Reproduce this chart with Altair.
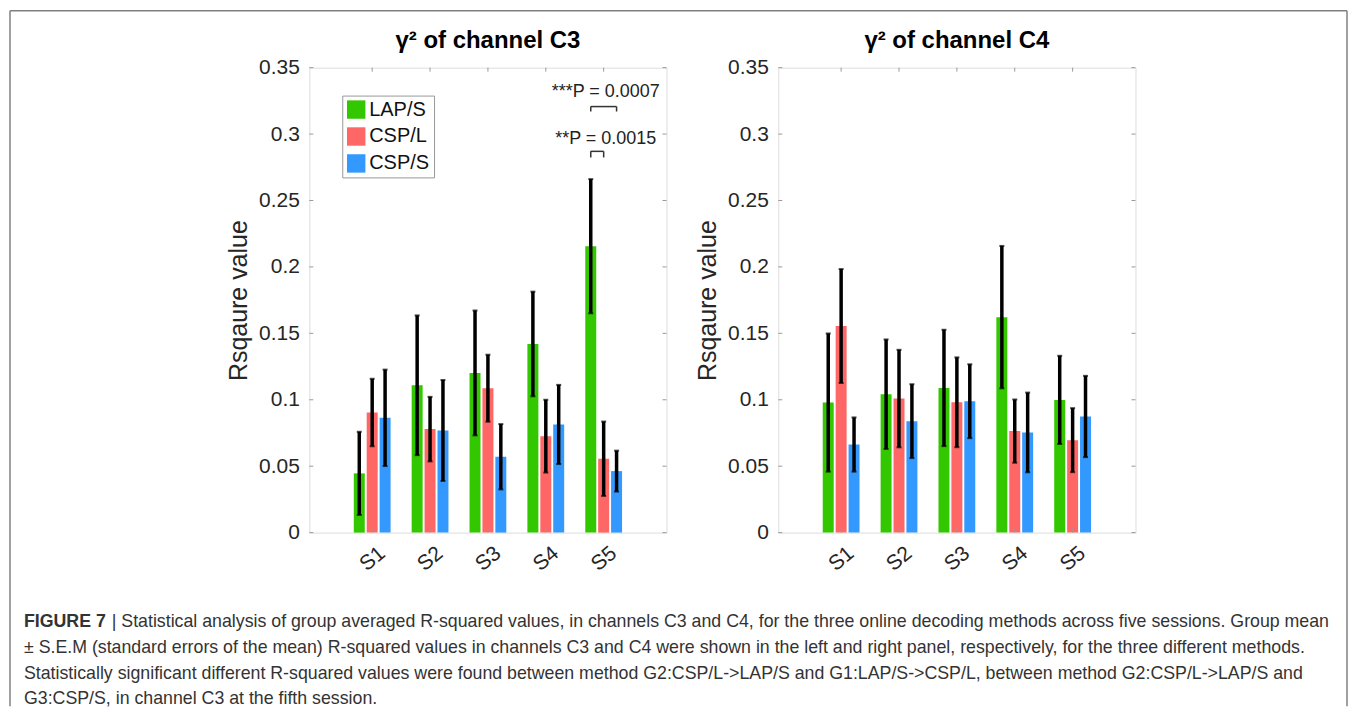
import altair as alt
import pandas as pd

sessions = ["S1", "S2", "S3", "S4", "S5"]
methods = ["LAP/S", "CSP/L", "CSP/S"]
colors = ["#33c700", "#ff6666", "#3399ff"]
y_ticks = [0, 0.05, 0.1, 0.15, 0.2, 0.25, 0.3, 0.35]

# channel C3: group means and S.E.M.
c3_lap_s = [0.0446, 0.1109, 0.1202, 0.1420, 0.2156]
c3_csp_l = [0.0904, 0.0779, 0.1087, 0.0726, 0.0556]
c3_csp_s = [0.0864, 0.0769, 0.0571, 0.0814, 0.0463]
c3_lap_s_sem = [0.0313, 0.0526, 0.0470, 0.0394, 0.0505]
c3_csp_l_sem = [0.0254, 0.0243, 0.0252, 0.0274, 0.0280]
c3_csp_s_sem = [0.0363, 0.0380, 0.0246, 0.0298, 0.0154]

# channel C4: group means and S.E.M.
c4_lap_s = [0.0979, 0.1042, 0.1089, 0.1622, 0.0999]
c4_csp_l = [0.1555, 0.1009, 0.0981, 0.0764, 0.0696]
c4_csp_s = [0.0663, 0.0839, 0.0989, 0.0754, 0.0874]
c4_lap_s_sem = [0.0520, 0.0412, 0.0438, 0.0536, 0.0332]
c4_csp_l_sem = [0.0429, 0.0367, 0.0338, 0.0238, 0.0241]
c4_csp_s_sem = [0.0204, 0.0278, 0.0278, 0.0300, 0.0306]

# significance annotations (channel C3, session 5)
sig_labels = ["***P = 0.0007", "**P = 0.0015"]
sig_text_y = [0.332, 0.296]
sig_bar_y = [0.3207, 0.287]
sig_leg_y = [0.317, 0.2824]
sig_pairs = [("LAP/S", "CSP/S"), ("LAP/S", "CSP/L")]

caption_bold = "FIGURE 7"
caption_lines = [
    "| Statistical analysis of group averaged R-squared values, in channels C3 and C4, for the three online decoding methods across five sessions. Group mean",
    "± S.E.M (standard errors of the mean) R-squared values in channels C3 and C4 were shown in the left and right panel, respectively, for the three different methods.",
    "Statistically significant different R-squared values were found between method G2:CSP/L->LAP/S and G1:LAP/S->CSP/L, between method G2:CSP/L->LAP/S and",
    "G3:CSP/S, in channel C3 at the fifth session.",
]

FONT = "Liberation Sans"
W, H = 358, 466
GAP = 112
STEP = 0.223  # bar offset within a group, in session units
offsets = {m: (i - 1) * STEP for i, m in enumerate(methods)}


def make_df(means, sems):
    rows = []
    for m, mv, sv in zip(methods, means, sems):
        for i, s in enumerate(sessions):
            rows.append(dict(session=s, idx=i + 1, method=m, mean=mv[i], sem=sv[i],
                             pos=i + 1 + offsets[m]))
    return pd.DataFrame(rows)


df_c3 = make_df([c3_lap_s, c3_csp_l, c3_csp_s], [c3_lap_s_sem, c3_csp_l_sem, c3_csp_s_sem])
df_c4 = make_df([c4_lap_s, c4_csp_l, c4_csp_s], [c4_lap_s_sem, c4_csp_l_sem, c4_csp_s_sem])

label_js = "[" + ",".join("'%s'" % s for s in sessions) + "][datum.value-1]"
xscale = alt.Scale(domain=[0, 6], nice=False, zero=False)
yscale = alt.Scale(domain=[0, 0.35], nice=False)
YTITLE = "Rsqaure value"

x_axis = alt.Axis(values=list(range(1, len(sessions) + 1)), labelExpr=label_js, labelAngle=-40,
                  labelAlign="center", labelBaseline="middle", labelPadding=26, labelFontSize=21,
                  labelFont=FONT, labelColor="#262626", ticks=False, tickSize=0, domain=False,
                  grid=False, title=None)
y_axis = alt.Axis(values=y_ticks, format="~g", labelFontSize=21, labelFont=FONT,
                  labelColor="#262626", ticks=False, tickSize=0, domain=False, grid=False,
                  labelPadding=10, titlePadding=7, titleFontSize=25, titleFont=FONT,
                  titleFontWeight="normal", titleColor="#262626")


def panel(df, title, show_legend, extra_layers):
    base = alt.Chart(df)
    if show_legend:
        legend = alt.Legend(orient="none", legendX=33, legendY=28, title=None,
                            symbolType="square", symbolSize=340, symbolStrokeWidth=0,
                            symbolOpacity=1, labelFontSize=20, labelFont=FONT,
                            labelColor="#111", strokeColor="#999", fillColor="white",
                            padding=4, rowPadding=7, labelOffset=3)
    else:
        legend = None
    bars = base.mark_bar(size=11, opacity=1).encode(
        x=alt.X("pos:Q", scale=xscale, axis=x_axis),
        y=alt.Y("mean:Q", scale=yscale, axis=y_axis, title=YTITLE),
        color=alt.Color("method:N", scale=alt.Scale(domain=methods, range=colors), legend=legend),
    )
    eb = base.transform_calculate(lo="datum.mean - datum.sem", hi="datum.mean + datum.sem")
    err = eb.mark_rule(color="black", strokeWidth=3.5).encode(
        x=alt.X("pos:Q", title=None), y=alt.Y("lo:Q", title=YTITLE), y2="hi:Q")
    cap_lo = eb.mark_tick(orient="horizontal", size=5, thickness=2, color="black").encode(
        x=alt.X("pos:Q", title=None), y=alt.Y("lo:Q", title=YTITLE))
    cap_hi = eb.mark_tick(orient="horizontal", size=5, thickness=2, color="black").encode(
        x=alt.X("pos:Q", title=None), y=alt.Y("hi:Q", title=YTITLE))

    # inward box ticks
    ydf = pd.DataFrame({"v": y_ticks})
    xdf = pd.DataFrame({"v": list(range(1, len(sessions) + 1))})
    tl = alt.Chart(ydf).mark_rule(color="#999", strokeWidth=1).encode(
        x=alt.value(0), x2=alt.value(4), y=alt.Y("v:Q", title=YTITLE))
    tr = alt.Chart(ydf).mark_rule(color="#999", strokeWidth=1).encode(
        x=alt.value(W - 4), x2=alt.value(W), y=alt.Y("v:Q", title=YTITLE))
    tb = alt.Chart(xdf).mark_rule(color="#999", strokeWidth=1).encode(
        x=alt.X("v:Q", title=None), y=alt.value(H - 4), y2=alt.value(H))
    tt = alt.Chart(xdf).mark_rule(color="#999", strokeWidth=1).encode(
        x=alt.X("v:Q", title=None), y=alt.value(0), y2=alt.value(4))

    layers = [bars, err, cap_lo, cap_hi, tl, tr, tb, tt] + extra_layers
    return alt.layer(*layers).properties(
        width=W, height=H,
        title=alt.TitleParams(text=title, fontSize=24, font=FONT, fontWeight="bold",
                              color="black", offset=4, anchor="middle", frame="group"),
    )


# significance brackets
brk_rows = []
for (a, b), yb, yl in zip(sig_pairs, sig_bar_y, sig_leg_y):
    xa, xb = 5 + offsets[a], 5 + offsets[b]
    brk_rows.append(dict(x=xa, x2=xb, y=yb, y2=yb))
    brk_rows.append(dict(x=xa, x2=xa, y=yl, y2=yb))
    brk_rows.append(dict(x=xb, x2=xb, y=yl, y2=yb))
brk_df = pd.DataFrame(brk_rows)
brackets = alt.Chart(brk_df).mark_rule(color="#333", strokeWidth=1.5).encode(
    x=alt.X("x:Q", title=None), x2="x2:Q", y=alt.Y("y:Q", title=YTITLE), y2="y2:Q")
sig_df = pd.DataFrame({"label": sig_labels, "y": sig_text_y, "x": [5, 5]})
sig_text = alt.Chart(sig_df).mark_text(fontSize=18, font=FONT, color="#222", dx=2,
                                       baseline="middle").encode(
    x=alt.X("x:Q", title=None), y=alt.Y("y:Q", title=YTITLE), text="label:N")

left = panel(df_c3, "γ² of channel C3", True, [brackets, sig_text])
right = panel(df_c4, "γ² of channel C4", False, [])

# figure frame and caption: a tiny third cell; coordinates relative to left plot origin
SHIFT = 2 * (W + GAP)
one = pd.DataFrame({"k": [0]})
FL, FT, FR, FB = -300 - SHIFT, -57, 1040 - SHIFT, 640
layers3 = [
    alt.Chart(one).mark_rule(color="#808080", strokeWidth=1.5).encode(
        x=alt.value(FL), y=alt.value(FT), y2=alt.value(FB)),
    alt.Chart(one).mark_rule(color="#808080", strokeWidth=1.5).encode(
        x=alt.value(FL), x2=alt.value(FR), y=alt.value(FT)),
    alt.Chart(one).mark_rule(color="#808080", strokeWidth=1.5).encode(
        x=alt.value(FR), y=alt.value(FT), y2=alt.value(FB)),
]
CAP_X = -286 - SHIFT
CAP_Y = [556, 582, 608, 633]
CAP_FS = 17.8
layers3.append(alt.Chart(pd.DataFrame({"t": [caption_bold]})).mark_text(
    align="left", baseline="middle", fontSize=CAP_FS, font=FONT, fontWeight="bold", color="#333").encode(
    x=alt.value(CAP_X), y=alt.value(CAP_Y[0]), text="t:N"))
for i, line in enumerate(caption_lines):
    layers3.append(alt.Chart(pd.DataFrame({"t": [line]})).mark_text(
        align="left", baseline="middle", fontSize=CAP_FS, font=FONT, color="#333").encode(
        x=alt.value(CAP_X + (88 if i == 0 else 0)), y=alt.value(CAP_Y[i]), text="t:N"))
extras = alt.layer(*layers3).properties(
    width=1, height=1, view=alt.ViewBackground(stroke="transparent"))

chart = alt.hconcat(left, right, extras, spacing=GAP, bounds="flush").resolve_scale(
    color="independent").properties(padding=0).configure_view(
    stroke="#a0a0a0", strokeWidth=1).configure(font=FONT)

chart.save("out.html", embed_options={"renderer": "svg", "actions": False})
